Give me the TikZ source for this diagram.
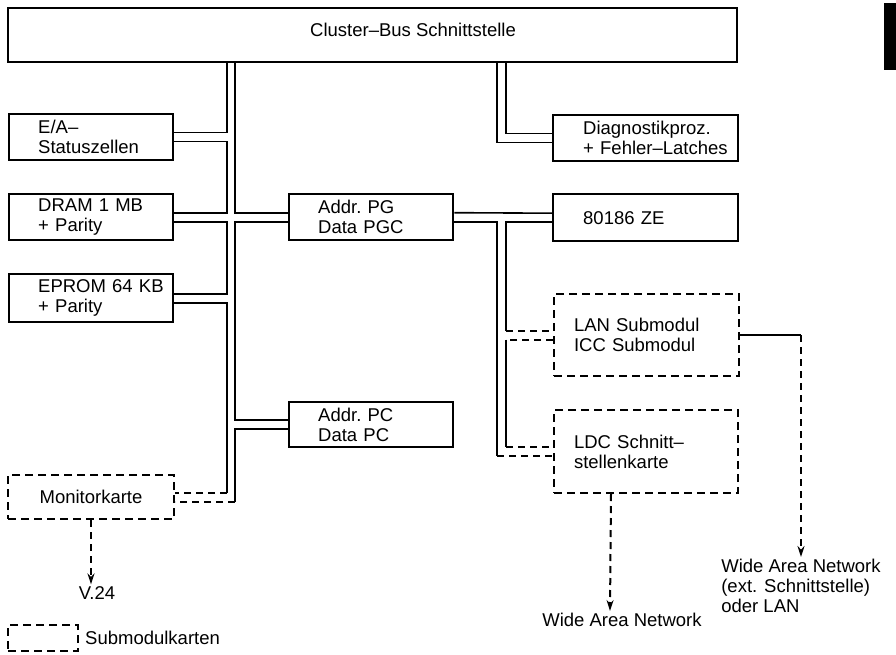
\documentclass[tikz,border=0pt]{standalone}
\usepackage{fontspec}
\setmainfont{Liberation Sans}
\usepackage{tikz}
\usetikzlibrary{arrows.meta,calc,positioning}

\tikzset{
  unit/.style={draw, line width=2.4pt, anchor=north west, align=left, inner ysep=0pt},
  subunit/.style={unit, line width=2pt, dash pattern=on 8pt off 5pt},
  bus/.style={line width=1.6pt},
  subbus/.style={line width=2pt, dash pattern=on 7pt off 5pt},
  subarrow/.style={subbus, -{Stealth[length=11pt,width=7pt]}},
  label/.style={inner sep=2pt}
}

\begin{document}
\begin{tikzpicture}[x=1pt,y=-1pt,every node/.style={font=\fontsize{18.5pt}{20pt}\selectfont}]
\useasboundingbox (0,0) rectangle (896,655);

\node[unit, minimum width=729pt, minimum height=54pt, inner sep=0pt] (cluster) at (7,7) {};
\node[label] (clustertext) at (413,30) {Cluster--Bus Schnittstelle};

\node[unit, inner xsep=29pt, text width=106pt, minimum height=46pt] (ea) at (8,113) {E/A--\\Statuszellen};
\node[unit, inner xsep=29pt, text width=106pt, minimum height=46pt] (dram) at (8,193) {DRAM 1 MB\\+ Parity};
\node[unit, inner xsep=29pt, text width=106pt, minimum height=48pt] (eprom) at (8,273) {\mbox{EPROM 64 KB}\\+ Parity};
\node[unit, inner xsep=29pt, text width=106pt, minimum height=46pt] (pg) at (288,193) {Addr.\ PG\\Data PGC};
\node[unit, inner xsep=29pt, text width=106pt, minimum height=45pt] (pc) at (288,401) {Addr.\ PC\\Data PC};
\node[unit, inner xsep=30pt, text width=125pt, minimum height=46pt] (diag) at (552,114) {\mbox{Diagnostikproz.}\\\mbox{+ Fehler--Latches}};
\node[unit, inner xsep=30pt, text width=125pt, minimum height=47pt] (cpu) at (552,193) {80186 ZE};
\node[subunit, inner xsep=20pt, text width=145pt, minimum height=82pt] (lan) at (553,293) {LAN Submodul\\ICC Submodul};
\node[subunit, inner xsep=20pt, text width=144pt, minimum height=83pt] (ldc) at (553,409) {LDC Schnitt--\\stellenkarte};
\node[subunit, inner xsep=0pt, minimum width=166pt, minimum height=44pt] (mon) at (7,474) {Monitorkarte};
\node[subunit, minimum width=70pt, minimum height=26pt, inner sep=0pt] (legbox) at (7,624) {};
\node[label, right=4pt of legbox] (legtext) {Submodulkarten};

\node[label] (v24) at (97,593) {V.24};
\node[label] (wanl) at (622,620) {Wide Area Network};
\node[label, align=left] (wanr) at (801,586) {Wide Area Network\\(ext. Schnittstelle)\\oder LAN};

\fill (884,3) rectangle (896,70);

\coordinate (bl) at (227,0);
\coordinate (br) at (235,0);
\coordinate (rl) at (497,0);
\coordinate (rr) at (506,0);

\foreach \n in {ea,dram,eprom,mon} {
  \coordinate (\n-u) at ($(\n.east)+(0,-4.5)$);
  \coordinate (\n-d) at ($(\n.east)+(0,4.5)$);
}
\foreach \n in {pg,pc,diag,cpu,lan,ldc} {
  \coordinate (\n-u) at ($(\n.west)+(0,-4.5)$);
  \coordinate (\n-d) at ($(\n.west)+(0,4.5)$);
}
\coordinate (pgo-u) at ($(pg.east)+(0,-4.5)$);
\coordinate (pgo-d) at ($(pg.east)+(0,4.5)$);

\draw[bus] (cluster.south -| bl) |- (ea-u);
\draw[bus] (ea-d) -| (dram-u -| bl) -- (dram-u);
\draw[bus] (dram-d) -| (eprom-u -| bl) -- (eprom-u);
\draw[bus] (eprom-d) -| (mon-u -| bl);
\draw[subbus] (mon-u -| bl) -- (mon-u);

\draw[bus] (cluster.south -| br) |- (pg-u);
\draw[bus] (pg-d) -| (pc-u -| br) -- (pc-u);
\draw[bus] (pc-d) -| (mon-d -| br);
\draw[subbus] (mon-d -| br) -- (mon-d);

\draw[bus] (cluster.south -| rl) |- (diag-d);
\draw[bus] (cluster.south -| rr) |- (diag-u);

\draw[bus] (pgo-u) -- (cpu-u);
\draw[bus] (pgo-d) -| (ldc-d -| rl);
\draw[subbus] (ldc-d -| rl) -- (ldc-d);
\draw[bus] (cpu-d) -| (lan-u -| rr);
\draw[subbus] (lan-u -| rr) -- (lan-u);
\draw[subbus] (lan-d) -- (lan-d -| rr);
\draw[bus] (lan-d -| rr) -- (ldc-u -| rr);
\draw[subbus] (ldc-u -| rr) -- (ldc-u);

\draw[bus] (lan.east) -- (lan.east -| wanr.north);
\draw[subarrow] (lan.east -| wanr.north) -- (wanr.north);
\draw[subarrow] ([xshift=-35pt]ldc.south) -- ([xshift=-12pt]wanl.north);
\draw[subarrow] (mon.south) -- ([xshift=-6pt]v24.north);

\end{tikzpicture}
\end{document}
